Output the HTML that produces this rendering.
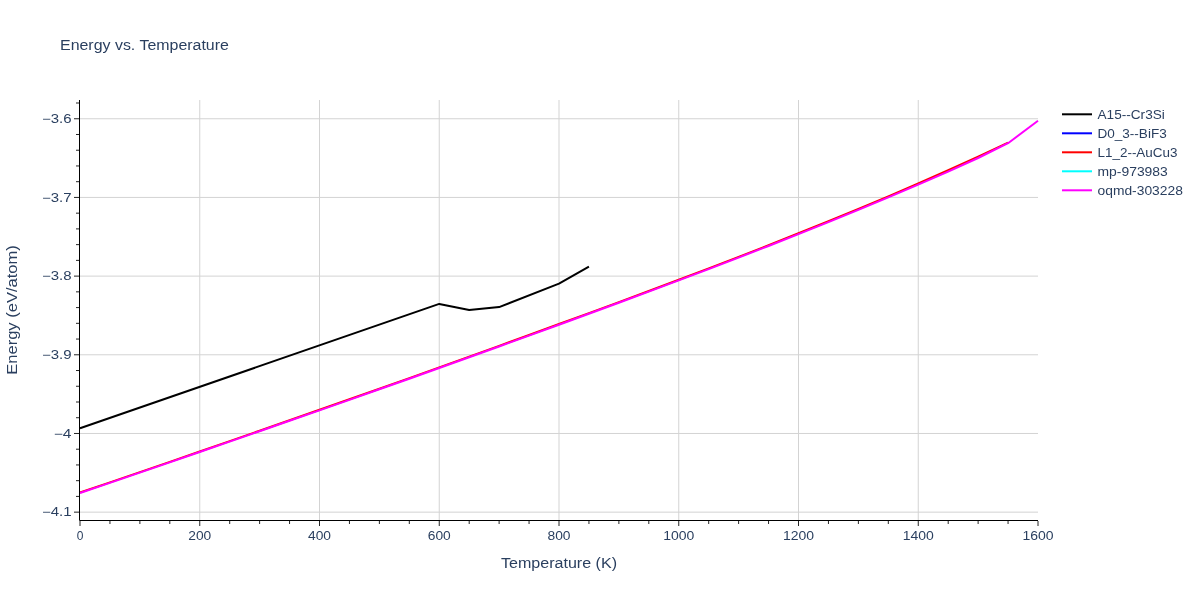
<!DOCTYPE html>
<html><head><meta charset="utf-8"><style>
html,body{margin:0;padding:0;background:#fff;width:1200px;height:600px;overflow:hidden}
svg{display:block;will-change:transform}
text{font-family:"Liberation Sans",sans-serif;fill:#2a3f5f}
</style></head><body>
<svg width="1200" height="600" viewBox="0 0 1200 600">
<rect width="1200" height="600" fill="#fff"/>
<g stroke="#d3d3d3" stroke-width="1" fill="none"><path d="M199.75,100V520"/><path d="M319.50,100V520"/><path d="M439.25,100V520"/><path d="M559.00,100V520"/><path d="M678.75,100V520"/><path d="M798.50,100V520"/><path d="M918.25,100V520"/><path d="M80,118.75H1038"/><path d="M80,197.43H1038"/><path d="M80,276.11H1038"/><path d="M80,354.79H1038"/><path d="M80,433.47H1038"/><path d="M80,512.15H1038"/></g>
<g fill="none" stroke-width="2" stroke-linejoin="round">
<path d="M80.00,428.25 L439.25,303.90 L469.19,310.10 L499.12,307.10 L559.00,283.67 L588.94,266.60" stroke="#000000"/>

<path d="M80.00,492.56 L109.94,482.39 L139.88,472.15 L169.81,461.85 L199.75,451.51 L229.69,441.12 L259.62,430.70 L289.56,420.25 L319.50,409.77 L349.44,399.27 L379.38,388.75 L409.31,378.15 L439.25,367.43 L469.19,356.68 L499.12,345.86 L529.06,334.99 L559.00,324.06 L588.94,313.09 L618.88,302.07 L648.81,290.95 L678.75,279.73 L708.69,268.38 L738.62,256.89 L768.56,245.18 L798.50,233.30 L828.44,221.21 L858.38,208.88 L888.31,196.31 L918.25,183.45 L948.19,170.26 L978.12,156.71 L1008.06,142.60" stroke="#ff0000"/>

<path d="M80.00,493.01 L109.94,482.85 L139.88,472.63 L169.81,462.33 L199.75,452.00 L229.69,441.63 L259.62,431.22 L289.56,420.78 L319.50,410.32 L349.44,399.82 L379.38,389.31 L409.31,378.73 L439.25,368.02 L469.19,357.28 L499.12,346.47 L529.06,335.61 L559.00,324.69 L588.94,313.73 L618.88,302.72 L648.81,291.62 L678.75,280.41 L708.69,269.07 L738.62,257.59 L768.56,245.95 L798.50,234.15 L828.44,222.14 L858.38,209.88 L888.31,197.41 L918.25,184.65 L948.19,171.56 L978.12,158.01 L1008.06,143.20 L1038.00,120.80" stroke="#ff00ff"/>
</g>
<g stroke="#242424" stroke-width="1" fill="none"><path d="M80.00,521v5"/><path d="M109.94,521v3"/><path d="M139.88,521v3"/><path d="M169.81,521v3"/><path d="M199.75,521v5"/><path d="M229.69,521v3"/><path d="M259.62,521v3"/><path d="M289.56,521v3"/><path d="M319.50,521v5"/><path d="M349.44,521v3"/><path d="M379.38,521v3"/><path d="M409.31,521v3"/><path d="M439.25,521v5"/><path d="M469.19,521v3"/><path d="M499.12,521v3"/><path d="M529.06,521v3"/><path d="M559.00,521v5"/><path d="M588.94,521v3"/><path d="M618.88,521v3"/><path d="M648.81,521v3"/><path d="M678.75,521v5"/><path d="M708.69,521v3"/><path d="M738.62,521v3"/><path d="M768.56,521v3"/><path d="M798.50,521v5"/><path d="M828.44,521v3"/><path d="M858.38,521v3"/><path d="M888.31,521v3"/><path d="M918.25,521v5"/><path d="M948.19,521v3"/><path d="M978.12,521v3"/><path d="M1008.06,521v3"/><path d="M1038.00,521v5"/><path d="M79,103.01h-3"/><path d="M79,118.75h-5"/><path d="M79,134.49h-3"/><path d="M79,150.22h-3"/><path d="M79,165.96h-3"/><path d="M79,181.69h-3"/><path d="M79,197.43h-5"/><path d="M79,213.17h-3"/><path d="M79,228.90h-3"/><path d="M79,244.64h-3"/><path d="M79,260.37h-3"/><path d="M79,276.11h-5"/><path d="M79,291.85h-3"/><path d="M79,307.58h-3"/><path d="M79,323.32h-3"/><path d="M79,339.05h-3"/><path d="M79,354.79h-5"/><path d="M79,370.53h-3"/><path d="M79,386.26h-3"/><path d="M79,402.00h-3"/><path d="M79,417.73h-3"/><path d="M79,433.47h-5"/><path d="M79,449.21h-3"/><path d="M79,464.94h-3"/><path d="M79,480.68h-3"/><path d="M79,496.41h-3"/><path d="M79,512.15h-5"/></g>
<path d="M79.5,100V520.5H1038" stroke="#000" stroke-width="1" fill="none"/>
<g font-size="12"><text x="80.00" y="540" text-anchor="middle">0</text><text x="199.75" y="540" text-anchor="middle" textLength="23.03" lengthAdjust="spacingAndGlyphs">200</text><text x="319.50" y="540" text-anchor="middle" textLength="23.03" lengthAdjust="spacingAndGlyphs">400</text><text x="439.25" y="540" text-anchor="middle" textLength="23.03" lengthAdjust="spacingAndGlyphs">600</text><text x="559.00" y="540" text-anchor="middle" textLength="23.03" lengthAdjust="spacingAndGlyphs">800</text><text x="678.75" y="540" text-anchor="middle" textLength="31.11" lengthAdjust="spacingAndGlyphs">1000</text><text x="798.50" y="540" text-anchor="middle" textLength="31.11" lengthAdjust="spacingAndGlyphs">1200</text><text x="918.25" y="540" text-anchor="middle" textLength="31.11" lengthAdjust="spacingAndGlyphs">1400</text><text x="1038.00" y="540" text-anchor="middle" textLength="31.11" lengthAdjust="spacingAndGlyphs">1600</text><text x="71.5" y="123.05" text-anchor="end" textLength="29.6" lengthAdjust="spacingAndGlyphs">−3.6</text><text x="71.5" y="201.73" text-anchor="end" textLength="29.6" lengthAdjust="spacingAndGlyphs">−3.7</text><text x="71.5" y="280.41" text-anchor="end" textLength="29.6" lengthAdjust="spacingAndGlyphs">−3.8</text><text x="71.5" y="359.09" text-anchor="end" textLength="29.6" lengthAdjust="spacingAndGlyphs">−3.9</text><text x="71.5" y="437.77" text-anchor="end" textLength="17.7" lengthAdjust="spacingAndGlyphs">−4</text><text x="71.5" y="516.45" text-anchor="end" textLength="29.6" lengthAdjust="spacingAndGlyphs">−4.1</text></g>
<text x="60" y="50" font-size="14" textLength="168.9" lengthAdjust="spacingAndGlyphs">Energy vs. Temperature</text>
<text x="559" y="567.5" font-size="14" text-anchor="middle" textLength="116.1" lengthAdjust="spacingAndGlyphs">Temperature (K)</text>
<text transform="translate(17.3,310) rotate(-90)" font-size="14" text-anchor="middle" textLength="129.5" lengthAdjust="spacingAndGlyphs">Energy (eV/atom)</text>
<g font-size="12"><path d="M1062,114.30h30" stroke="#000000" stroke-width="2"/><text x="1097.5" y="118.90" textLength="67.3" lengthAdjust="spacingAndGlyphs">A15--Cr3Si</text><path d="M1062,133.30h30" stroke="#0000ff" stroke-width="2"/><text x="1097.5" y="137.90" textLength="69.2" lengthAdjust="spacingAndGlyphs">D0_3--BiF3</text><path d="M1062,152.30h30" stroke="#ff0000" stroke-width="2"/><text x="1097.5" y="156.90" textLength="80.0" lengthAdjust="spacingAndGlyphs">L1_2--AuCu3</text><path d="M1062,171.30h30" stroke="#00ffff" stroke-width="2"/><text x="1097.5" y="175.90" textLength="70.3" lengthAdjust="spacingAndGlyphs">mp-973983</text><path d="M1062,190.30h30" stroke="#ff00ff" stroke-width="2"/><text x="1097.5" y="194.90" textLength="85.4" lengthAdjust="spacingAndGlyphs">oqmd-303228</text></g>
</svg>
</body></html>
